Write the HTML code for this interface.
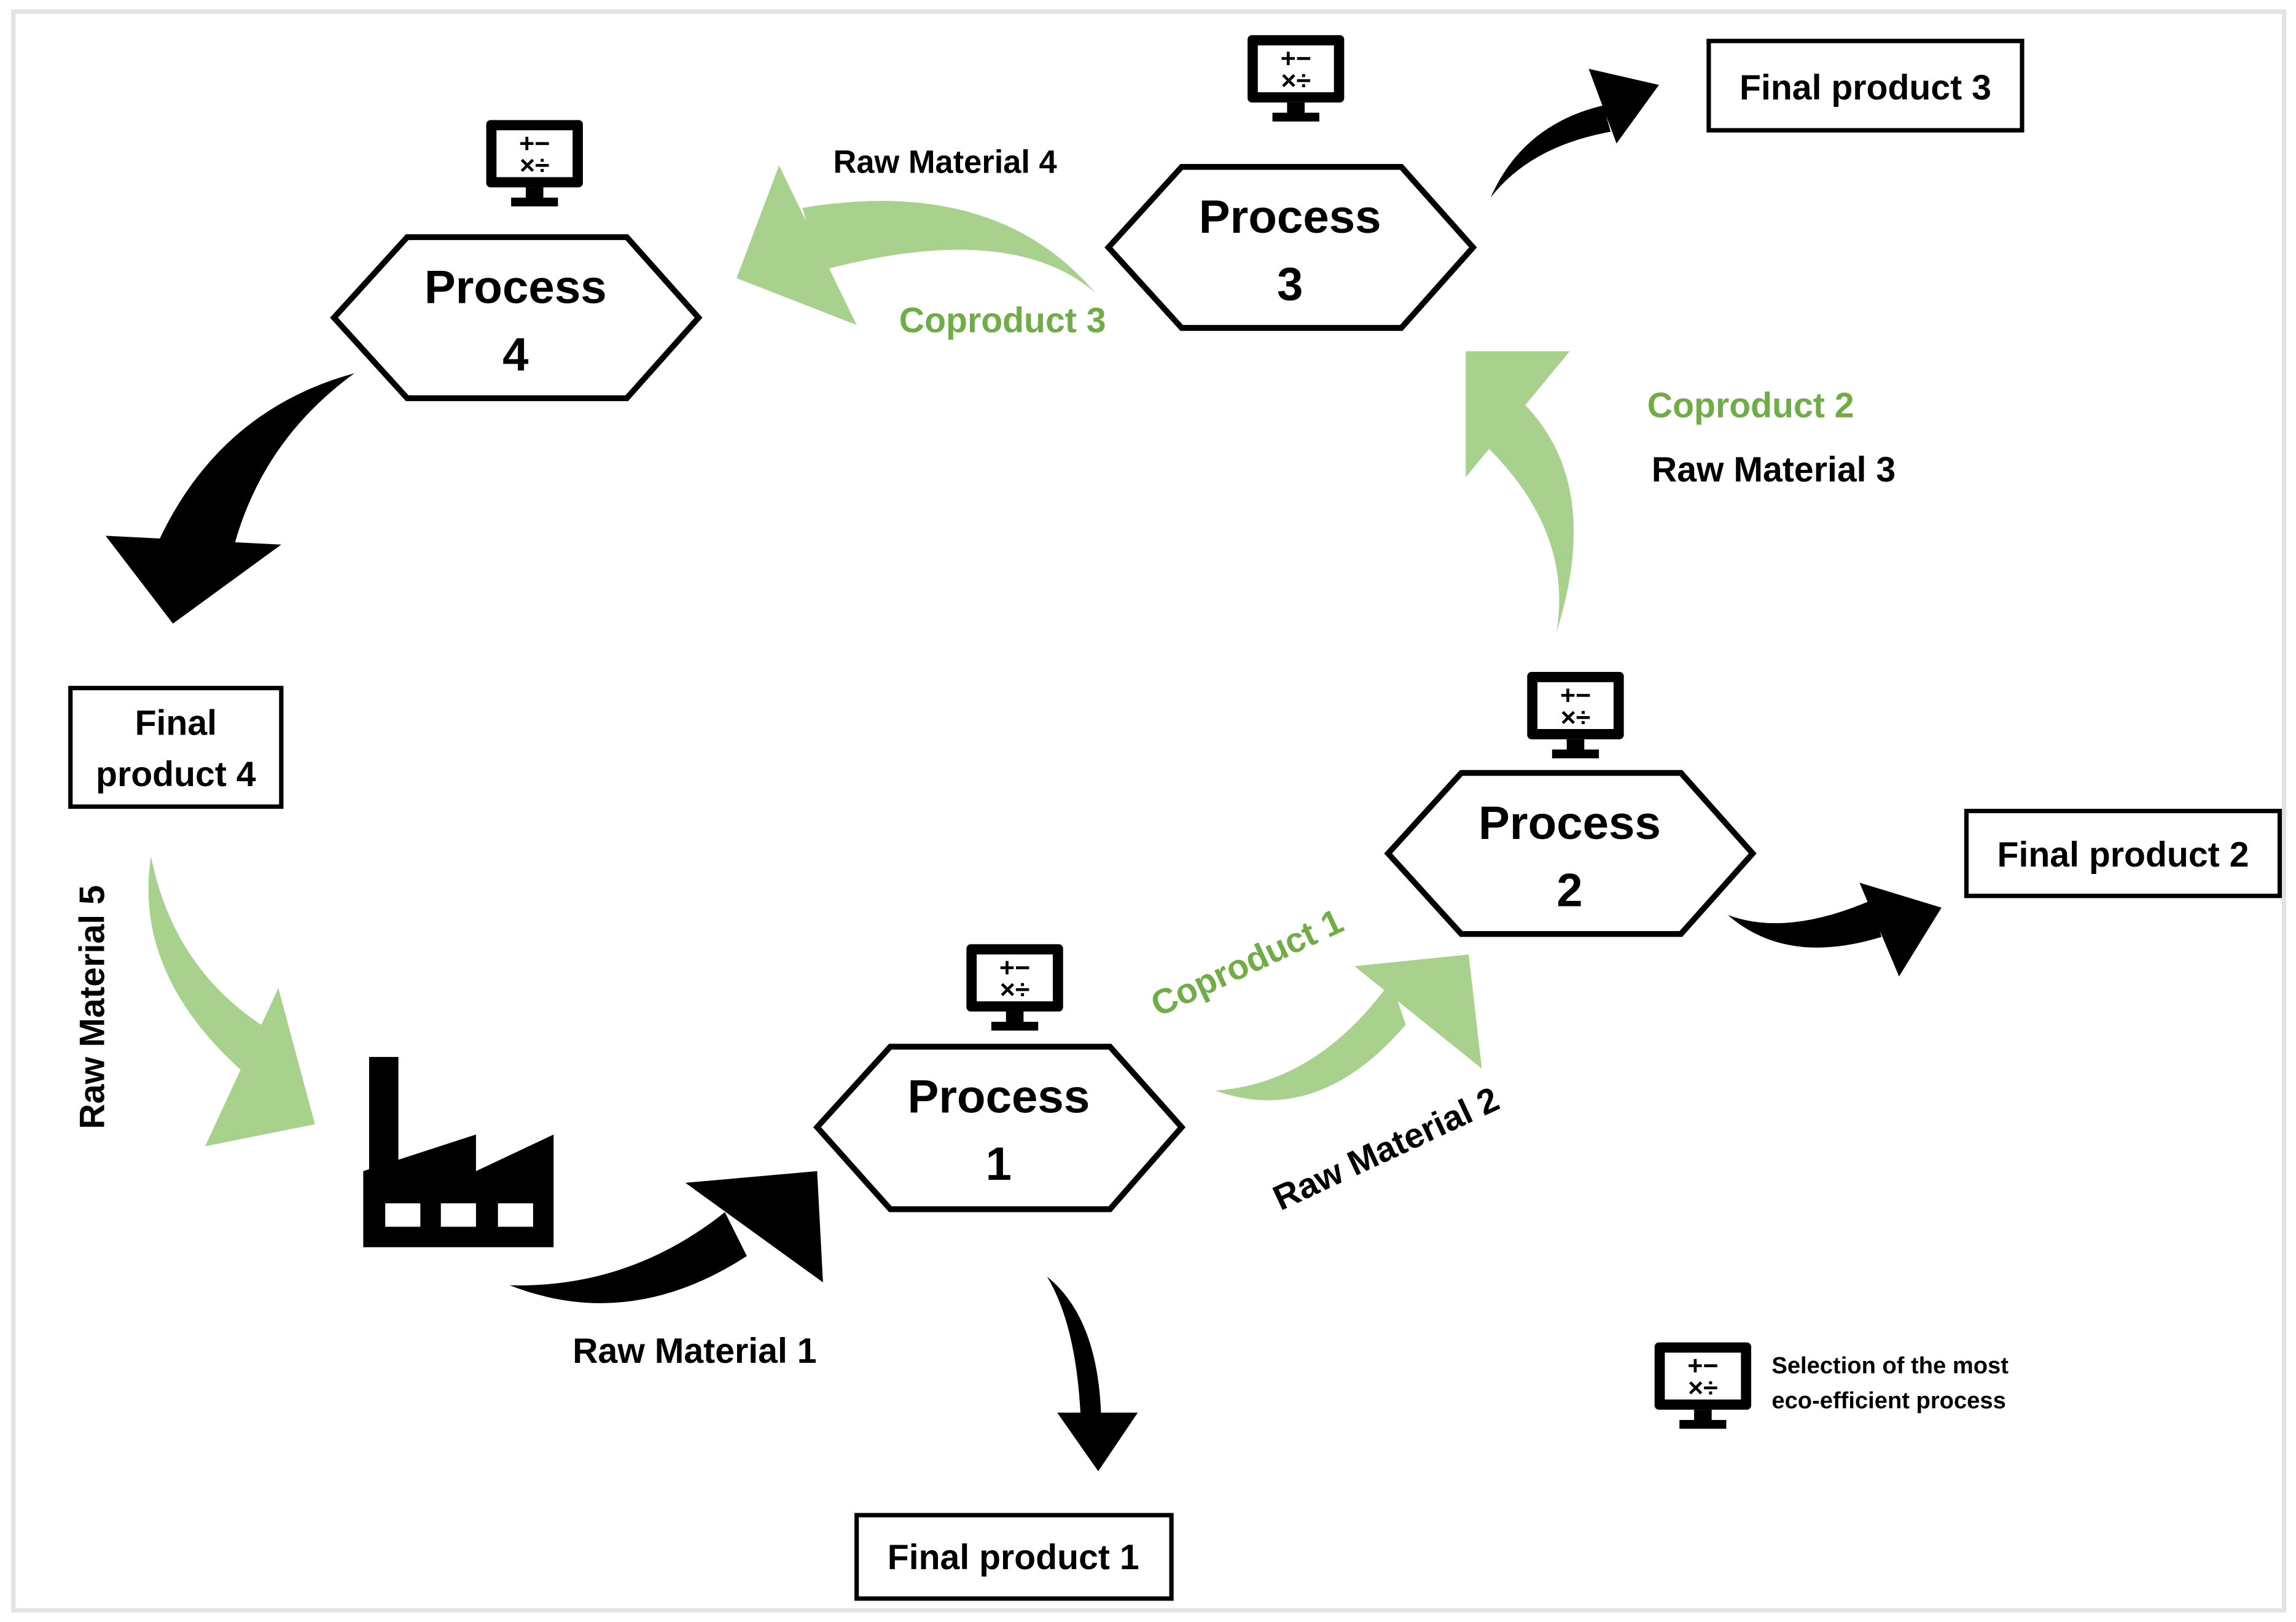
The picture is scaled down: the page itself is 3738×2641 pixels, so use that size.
<!DOCTYPE html>
<html><head><meta charset="utf-8"><style>
html,body{margin:0;padding:0;background:#fff}
svg{display:block}
text{font-family:"Liberation Sans",sans-serif;font-weight:bold}
</style></head><body>
<svg width="3738" height="2641" viewBox="0 0 1568 1108" xmlns="http://www.w3.org/2000/svg">
<defs>
<g id="mon">
<rect x="-33" y="-26" width="66" height="46" rx="3" fill="#000"/>
<rect x="-26" y="-19" width="52" height="32" fill="#fff"/>
<rect x="-6" y="20" width="12" height="8" fill="#000"/>
<rect x="-16" y="27" width="32" height="6" fill="#000"/>
<text x="0" y="-4" font-size="18" text-anchor="middle" fill="#000">+−</text>
<text x="0" y="11" font-size="18" text-anchor="middle" fill="#000">×÷</text>
</g>
</defs>
<rect x="0" y="0" width="1568" height="1108" fill="#fff"/>
<rect x="9" y="8" width="1551" height="1092" fill="none" stroke="#e3e3e3" stroke-width="3"/>

<g fill="#fff" stroke="#000" stroke-width="4">
<polygon points="228,217 278,162 428,162 477,217 428,272 278,272"/>
<polygon points="757,169 807,114 957,114 1006,169 957,224 807,224"/>
<polygon points="948,583 998,528 1148,528 1197,583 1148,638 998,638"/>
<polygon points="558,770 608,715 758,715 807,770 758,826 608,826"/>
</g>
<g font-size="32" text-anchor="middle" fill="#000">
<text x="352" y="207">Process</text><text x="352" y="253">4</text>
<text x="881" y="159">Process</text><text x="881" y="205">3</text>
<text x="1072" y="573">Process</text><text x="1072" y="619">2</text>
<text x="682" y="760">Process</text><text x="682" y="806">1</text>
</g>

<use href="#mon" x="365" y="108"/>
<use href="#mon" x="885" y="50"/>
<use href="#mon" x="1076" y="485"/>
<use href="#mon" x="693" y="671"/>
<use href="#mon" x="1163" y="943"/>

<g fill="#fff" stroke="#000" stroke-width="3">
<rect x="1167" y="28" width="214" height="61"/>
<rect x="1343" y="554" width="214" height="58"/>
<rect x="585" y="1035" width="215" height="57"/>
<rect x="48" y="470" width="144" height="81"/>
</g>
<g font-size="24" text-anchor="middle" fill="#000">
<text x="1274" y="68">Final product 3</text>
<text x="1450" y="592">Final product 2</text>
<text x="692" y="1072">Final product 1</text>
<text x="120" y="502">Final</text>
<text x="120" y="537">product 4</text>
</g>

<g fill="#000">
<path d="M242,255 Q150,280 108,370 L160,372 Q180,300 242,255 Z"/>
<polygon points="72,366 192,372 118,426"/>
<path d="M348,878 Q430,910 510,858 L495,828 Q430,880 348,878 Z"/>
<polygon points="468,808 562,876 558,800"/>
<path d="M715,872 Q750,900 752,968 L738,968 Q735,905 715,872 Z"/>
<polygon points="722,965 777,965 750,1005"/>
<path d="M1180,625 Q1220,660 1285,640 L1278,615 Q1220,640 1180,625 Z"/>
<polygon points="1270,603 1297,667 1326,620"/>
<path d="M1018,135 Q1040,85 1095,72 L1100,90 Q1045,100 1018,135 Z"/>
<polygon points="1085,47 1104,98 1133,58"/>
</g>

<g fill="#a9d18e">
<path d="M103,585 Q90,670 175,740 L195,710 Q120,670 103,585 Z"/>
<polygon points="190,675 215,768 140,783"/>
<path d="M830,745 Q900,770 960,700 L950,670 Q900,740 830,745 Z"/>
<polygon points="925,660 1012,730 1003,652"/>
<path d="M1063,432 Q1095,330 1040,275 L1010,300 Q1075,360 1063,432 Z"/>
<polygon points="1001,326 1001,240 1072,240"/>
<path d="M748,200 Q680,120 548,142 L560,185 Q690,150 748,200 Z"/>
<polygon points="532,113 503,190 585,222"/>
</g>

<g fill="#000">
<rect x="252" y="722" width="20" height="80"/>
<polygon points="248,852 248,800 325,775 325,800 378,775 378,852"/>
</g>
<g fill="#fff">
<rect x="263" y="822" width="24" height="16"/>
<rect x="301" y="822" width="24" height="16"/>
<rect x="340" y="822" width="24" height="16"/>
</g>

<g font-size="22">
<text x="569" y="118" fill="#000">Raw Material 4</text>
<text x="614" y="227" fill="#70ad47" font-size="24">Coproduct 3</text>
<text x="1125" y="285" fill="#70ad47" font-size="24">Coproduct 2</text>
<text x="1128" y="329" fill="#000" font-size="24">Raw Material 3</text>
<text x="391" y="931" fill="#000" font-size="24">Raw Material 1</text>
<text transform="translate(855,665) rotate(-25)" text-anchor="middle" fill="#70ad47" font-size="24">Coproduct 1</text>
<text transform="translate(950,792) rotate(-25)" text-anchor="middle" fill="#000" font-size="24">Raw Material 2</text>
<text transform="translate(71,688) rotate(-90)" text-anchor="middle" fill="#000" font-size="24">Raw Material 5</text>
<text x="1210" y="938" fill="#000" font-size="16">Selection of the most</text>
<text x="1210" y="962" fill="#000" font-size="16">eco-efficient process</text>
</g>
</svg>
</body></html>
